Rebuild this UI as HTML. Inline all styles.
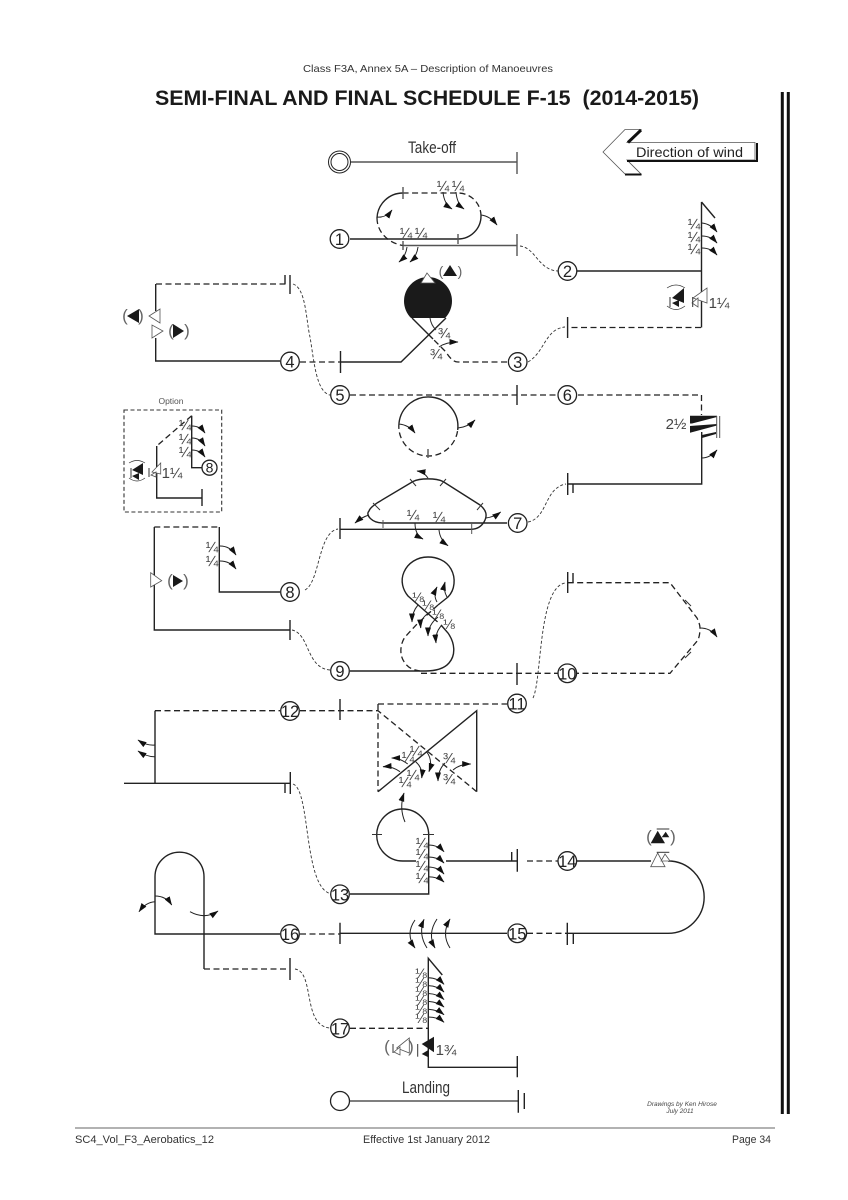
<!DOCTYPE html>
<html><head><meta charset="utf-8">
<style>
html,body{margin:0;padding:0;background:#fff}
svg{display:block}
text{font-family:"Liberation Sans",sans-serif}
.s{fill:none;stroke:#222;stroke-width:1.4}
.g{fill:none;stroke:#555;stroke-width:1.4}
.d{fill:none;stroke:#222;stroke-width:1.3;stroke-dasharray:6 3.5}
.t{fill:none;stroke:#333;stroke-width:.9;stroke-dasharray:3 2}
.a{fill:none;stroke:#222;stroke-width:1;marker-end:url(#ah)}
.k{fill:none;stroke:#333;stroke-width:1}
.o{fill:#fff;stroke:#555;stroke-width:.8}
.b{fill:#1a1a1a;stroke:none}
.c{fill:#fff;stroke:#222;stroke-width:1.3}
.n{font-size:16.5px;text-anchor:middle;fill:#222}
.f{font-size:15px;text-anchor:middle;fill:#444}
.e{font-size:14px;text-anchor:middle;fill:#444}
.p{font-size:17px;text-anchor:middle;fill:#666}
</style></head><body>
<svg width="848" height="1200" viewBox="0 0 848 1200" xmlns="http://www.w3.org/2000/svg">
<defs><marker id="ah" markerUnits="userSpaceOnUse" markerWidth="10" markerHeight="7" refX="8.5" refY="3" orient="auto"><path d="M0 0L9 3L0 6Z" fill="#111"/></marker></defs>
<rect width="848" height="1200" fill="#fff"/>

<!-- header / footer -->
<text x="428" y="72" font-size="10.5" text-anchor="middle" fill="#333" textLength="250" lengthAdjust="spacingAndGlyphs">Class F3A, Annex 5A – Description of Manoeuvres</text>
<text x="155" y="105" font-size="21.5" font-weight="bold" fill="#1a1a1a" textLength="544" lengthAdjust="spacingAndGlyphs" xml:space="preserve">SEMI-FINAL AND FINAL SCHEDULE F-15  (2014-2015)</text>
<path d="M782.3 92V1114M788.3 92V1114" stroke="#111" stroke-width="3" fill="none"/>
<path d="M75 1128H775" stroke="#666" stroke-width="1" fill="none"/>
<text x="75" y="1143" font-size="11" fill="#333" textLength="139" lengthAdjust="spacingAndGlyphs">SC4_Vol_F3_Aerobatics_12</text>
<text x="363" y="1143" font-size="11" fill="#333" textLength="127" lengthAdjust="spacingAndGlyphs">Effective 1st January 2012</text>
<text x="732" y="1143" font-size="11" fill="#333" textLength="39" lengthAdjust="spacingAndGlyphs">Page 34</text>
<text x="682" y="1106" font-size="6.5" font-style="italic" text-anchor="middle" fill="#444">Drawings by Ken Hirose</text>
<text x="680" y="1113" font-size="6.5" font-style="italic" text-anchor="middle" fill="#444">July  2011</text>

<!-- wind -->
<path d="M603 152L625 129.5H641L627 142.5H755V160H627L641 174H625Z" class="o"/>
<path d="M641 130L628 142.5" stroke="#111" stroke-width="3" fill="none"/>
<path d="M627 161H757V143" stroke="#111" stroke-width="2" fill="none"/>
<path d="M625 174.5H641.5" stroke="#111" stroke-width="2" fill="none"/>
<text x="636" y="157" font-size="14" fill="#222" textLength="107" lengthAdjust="spacingAndGlyphs">Direction of wind</text>

<!-- take-off -->
<circle cx="339.5" cy="162" r="11" class="c" style="stroke-width:1"/>
<circle cx="339.5" cy="162" r="8.5" class="c" style="stroke-width:1"/>
<path d="M351 162H517M517 152V174" class="g"/>
<text x="432" y="153" font-size="17" text-anchor="middle" fill="#333" textLength="48" lengthAdjust="spacingAndGlyphs">Take-off</text>

<!-- 1 -->
<path d="M350 239H458A23 23 0 0 0 481 216" class="s"/>
<path d="M481 216A23 23 0 0 0 458 193H403" class="d"/>
<path d="M403 193A26 26 0 0 0 377 218" class="s"/>
<path d="M377 218C377 232 388 243 403 245.5" class="d"/>
<path d="M403 245.5H517M517 234V256M403 187V199M458 234V244M403 241V250" class="g"/>
<path d="M377 217Q386 218 392 210" class="a"/>
<path d="M443 192Q444 204 452 209" class="a"/>
<path d="M456 192Q457 204 464 209" class="a"/>
<path d="M481 215Q490 216 497 225" class="a"/>
<path d="M407 247Q406 256 399 262" class="a"/>
<path d="M418 247Q417 256 410 262" class="a"/>
<text x="443" y="191" class="f">¼</text><text x="458" y="191" class="f">¼</text>
<text x="406" y="238" class="f">¼</text><text x="421" y="238" class="f">¼</text>
<path d="M520 246C536 248 538 270 558 271" class="t"/>

<!-- 2 -->
<path d="M577 271H702M701.5 202V327.5M701.5 202L715 218" class="s"/>
<text x="694" y="229" class="f">¼</text><text x="694" y="242" class="f">¼</text><text x="694" y="254" class="f">¼</text>
<path d="M702 223Q711 224 717 232" class="a"/><path d="M702 236Q711 236 717 243" class="a"/><path d="M702 248Q711 248 717 255" class="a"/>
<path d="M707 288V303L693 298Z" class="o"/><path d="M698 298V307L692 303Z" class="o"/>
<path d="M692.7 297V307" class="k"/>
<text x="719" y="308" class="f">1¼</text>
<path d="M684 288V303L672 298Z" class="b"/><path d="M679 300V307L672 303Z" class="b"/>
<path d="M670 297V307" class="k"/>
<path d="M667 288Q676 282 685 288M667 306Q676 313 685 306" class="k" style="stroke-width:.7"/>
<path d="M701 327.5H568" class="d"/><path d="M567.6 317V338" class="s"/>
<path d="M528 362C545 352 545 329 565 327" class="t"/>

<!-- 3 / 4 -->
<path d="M507 362H458Q452 362 446 352L433 339" class="d"/>
<path d="M433 339L412 318" class="s"/>
<path d="M411 318A24 24 0 1 1 445 318Z" class="b"/>
<path d="M427 273L435 283H421Z" fill="#fff" stroke="#555" stroke-width=".8"/>
<path d="M446 318L401 362H340M340.5 351V373" class="s"/>
<path d="M300 362H340" class="d"/>
<path d="M430 318Q431 325 436 330" class="k"/>
<path d="M439 347Q446 342 458 342" class="a"/>
<text x="444" y="338" class="f">¾</text><text x="436" y="359" class="f">¾</text>
<text x="441" y="276" class="p" style="font-size:14px">(</text><text x="460" y="276" class="p" style="font-size:14px">)</text>
<path d="M450 265L457 276H443Z" class="b"/>

<!-- 4 5 left -->
<path d="M156 284H287" class="d"/>
<path d="M290 275V294M285 275V284" class="s"/>
<path d="M155.7 284V311M155.7 338V361H280" class="s"/>
<path d="M160 309V323L149 316Z" class="o"/><path d="M152 325V338L163 331Z" class="o"/>
<path d="M139 309V323L127 316Z" class="b"/><path d="M173 324V338L184 331Z" class="b"/>
<text x="125" y="321" class="p">(</text><text x="141" y="321" class="p">)</text>
<text x="171" y="336" class="p">(</text><text x="187" y="336" class="p">)</text>
<path d="M293 284C306 288 306 320 310 337C314 360 316 392 330 395" class="t"/>

<!-- 5 6 loop -->
<path d="M350 395H701.5V415" class="d"/>
<path d="M517 385V405" class="s"/>
<path d="M457.7 430A29.5 29.5 0 1 0 399 423" class="s"/>
<path d="M399 423A29.5 29.5 0 0 0 457.7 430" class="d"/>
<path d="M428 449V458" class="g"/>
<path d="M399 424Q409 425 415 433" class="a"/>
<path d="M458 428Q468 427 475 420" class="a"/>

<!-- spin -->
<path d="M690 415.7H717V417L692 423.5H690Z" class="b"/>
<path d="M690 426L717 424V425.5L690 432.7Z" class="b"/>
<path d="M702 435L716 432V434L702 438Z" class="b"/>
<path d="M716.7 416V438M719.7 416V438" class="g" style="stroke-width:1"/>
<text x="676" y="429" class="f">2½</text>
<path d="M701.7 432V484H568M567.7 473V495M573 484V493" class="s"/>
<path d="M701.7 458Q710 458 717 450" class="a"/>

<!-- 7 -->
<path d="M507 523H383C372 523 365 515 369 511C370 508 373 506 377 503L413 481.5C420 478 436 478 443 481.5L480 505C486 510 488 515 484 522C481 527 477 529 471.7 529.3H340" class="s"/>
<path d="M340 518V539" class="s"/>
<path d="M383 520V528M471.7 524V534" class="g" style="stroke-width:1"/>
<path d="M373 503L380 510M410 479L416 486M446 479L440 486M483 503L477 510" class="k"/>
<path d="M369 515Q362 517 355 523" class="a"/>
<path d="M428 478Q424 472 417 471" class="a"/>
<path d="M486 518Q494 517 500.7 512" class="a"/>
<path d="M415 523Q415 535 423 539" class="a"/>
<path d="M439 530Q440 540 448 545.7" class="a"/>
<text x="413" y="520" class="f">¼</text><text x="439" y="522" class="f">¼</text>
<path d="M528 522C548 518 544 488 566 484" class="t"/>
<path d="M305 590C320 582 318 532 338 529" class="t"/>

<!-- option box -->
<rect x="124" y="410" width="97.7" height="102" fill="none" stroke="#333" stroke-width="1.1" stroke-dasharray="4 2.5"/>
<text x="171" y="404" font-size="8.5" text-anchor="middle" fill="#555">Option</text>
<path d="M191.7 415.7V467.7H203" class="s"/>
<path d="M191.7 415.7L156.7 446" class="d"/>
<path d="M156.7 446V498H202M202 489V506" class="s"/>
<text x="185" y="430" class="f">¼</text><text x="185" y="444" class="f">¼</text><text x="185" y="457" class="f">¼</text>
<path d="M192 426Q200 426 205 433" class="a"/><path d="M192 438Q200 438 205 446" class="a"/><path d="M192 450Q200 450 205 457" class="a"/>
<path d="M160.7 463V474L152 472Z" class="o"/><path d="M156 472V477L151 475Z" class="o"/>
<path d="M149 468V477" class="k"/>
<text x="172" y="478" class="f">1¼</text>
<path d="M143 463V475L132 470Z" class="b"/><path d="M139 473V480L132 476Z" class="b"/>
<path d="M131 468V478" class="k"/>
<path d="M129 463Q137 458 145 463M129 478Q137 484 145 478" class="k" style="stroke-width:.7"/>

<!-- 8 main -->
<path d="M154.3 527H219.3" class="d"/>
<path d="M219.3 527V592H280" class="s"/>
<path d="M154.3 527V630H290M290 620V640" class="s"/>
<path d="M150.7 572.7V587L161.7 580.7Z" class="o"/>
<path d="M173 575V587L183 581Z" class="b"/>
<text x="170" y="586" class="p">(</text><text x="186" y="586" class="p">)</text>
<text x="212" y="552" class="f">¼</text><text x="212" y="566" class="f">¼</text>
<path d="M220 546Q230 546 236 555" class="a"/><path d="M220 561Q230 561 236 569" class="a"/>
<path d="M292 630C310 634 306 668 330 670" class="t"/>

<!-- figure 8 -->
<path d="M438 605L448 597C455 590 456 578 451 569C446 560 436 557 428 557C417 557 408 563 404 572C400 581 403 590 408 596L433 618" class="s"/>
<path d="M438 605L417 624L405 637C400 644 399 656 405 663C409 669 415 670 420 671" class="d"/>
<path d="M433 618L440 624" class="d"/>
<path d="M441 625L448 633C455 643 456 655 449 663C443 670 433 671 425 671H350" class="s"/>
<path d="M421 673.3H670L698 640Q700 635 700 628Q700 624 697 618L670 582.7H568" class="d"/>
<path d="M517 663V685" class="s"/>
<path d="M685 600L691 606M685 658L691 652" class="k"/>
<path d="M567.7 572V593M573 573V583" class="s"/>
<path d="M700 628Q711 628 717 637" class="a"/>
<path d="M533 698C542 680 538 588 565 583" class="t"/>
<text x="418" y="602" class="e">⅛</text><text x="428" y="610" class="e">⅛</text><text x="438" y="619" class="e">⅛</text><text x="449" y="629" class="e">⅛</text>
<path d="M437 602Q433 595 437 587" class="a"/>
<path d="M447 597Q443 590 445 582" class="a"/>
<path d="M418 605Q412 612 412 622" class="a"/>
<path d="M430 612Q420 618 420.7 628" class="a"/>
<path d="M438 617Q428 625 428 636" class="a"/>
<path d="M442 625Q435 632 436 643" class="a"/>

<!-- 11 12 X -->
<path d="M155 710.7H280M300 710.7H378L476.7 791.7" class="d"/>
<path d="M340 699V720" class="s"/>
<path d="M378 704H507M378 704V791.7" class="d"/>
<path d="M378 791.7L476.7 710.7V791.7" class="s"/>
<path d="M155 710.7V783.3M124 783.3H290.3M290.3 772V794M285 783V793" class="s"/>
<path d="M155 745Q147 746 138 740" class="a"/><path d="M155 756.7Q147 757 138 751" class="a"/>
<text x="416" y="756" class="f">¼</text><text x="408" y="762" class="f">¼</text><text x="413" y="780" class="f">¼</text><text x="405" y="787" class="f">¼</text>
<text x="449" y="763" class="f">¾</text><text x="449" y="784" class="f">¾</text>
<path d="M426.7 752Q433 760 429 771.7" class="a"/>
<path d="M415.7 761.7Q423 768 421.7 778" class="a"/>
<path d="M407.7 764Q400 758 391.7 758" class="a"/>
<path d="M400 771.7Q392 766 383 766.7" class="a"/>
<path d="M445 763Q438 770 438 781" class="a"/>
<path d="M453 770Q460 764 470.7 764" class="a"/>

<!-- 13 -->
<path d="M293 784C311 790 303 890 332 894" class="t"/>
<path d="M350 894H428.7V835A26 26 0 0 0 376.7 835A26 26 0 0 0 402.7 861H416" class="s"/>
<path d="M372 834.5H382M423 834.5H434" class="k"/>
<path d="M405 822Q399 808 404 793" class="a"/>
<text x="422" y="848" class="f">¼</text><text x="422" y="859" class="f">¼</text><text x="422" y="871" class="f">¼</text><text x="422" y="883" class="f">¼</text>
<path d="M428 845Q438 845 444 851.7" class="a"/><path d="M428 857Q438 857 444 863" class="a"/><path d="M428 867Q438 867 444 874" class="a"/><path d="M428 876.7Q438 876.7 444 882" class="a"/>

<!-- 14 15 -->
<path d="M446 861H517M517.3 849V871.7M511.7 852V861" class="s"/>
<path d="M527 861H558" class="d"/>
<path d="M577 861H651M668 861A36 36 0 0 1 668 933.3H567.3M567.3 922.7V945M573.3 933V944" class="s"/>
<path d="M527 933.3H567" class="d"/>
<path d="M507 933.3H340M340 922.7V944" class="s"/>
<path d="M300 934H340" class="d"/>
<path d="M657.7 853L665 866.7H650.7Z" class="o"/><path d="M665 854L670 861H661Z" class="o"/>
<path d="M656.7 852.3H669.3" class="k"/>
<path d="M657.7 830.7L665 843.3H650.7Z" class="b"/><path d="M665.7 831.7L669.3 837.3H661.7Z" class="b"/>
<path d="M656.7 829H669.3" class="k"/>
<text x="649" y="842" class="p">(</text><text x="673" y="842" class="p">)</text>
<path d="M415 920Q405 934 415 948" class="a"/>
<path d="M427 948Q418 934 424 919.3" class="a"/>
<path d="M437 919Q427 934 435 948" class="a"/>
<path d="M450 948Q441 934 450 919" class="a"/>

<!-- 16 -->
<path d="M280 934H155V876.7A24.5 24.5 0 0 1 204 876.7V969" class="s"/>
<path d="M204 969H290" class="d"/><path d="M290 958V980" class="s"/>
<path d="M155 896Q166 896 171.7 905" class="a"/>
<path d="M155 901.7Q146 902 139 911.7" class="a"/>
<path d="M190 911.7Q205 920 218 911" class="a"/>

<!-- 17 -->
<path d="M295 969C315 972 302 1026 330 1028" class="t"/>
<path d="M350 1028.3H428" class="d"/>
<path d="M442.3 975L428.3 958.3V1067.3H517.3M517.3 1056V1077.3" class="s"/>
<text x="421" y="978" class="e">⅛</text><text x="421" y="987" class="e">⅛</text><text x="421" y="996" class="e">⅛</text><text x="421" y="1005" class="e">⅛</text><text x="421" y="1014" class="e">⅛</text><text x="421" y="1023" class="e">⅛</text>
<path d="M428.3 977.7Q438 978 444 984.3" class="a"/><path d="M428.3 985.6Q438 986 444 992" class="a"/><path d="M428.3 993.5Q438 994 444 999.5" class="a"/><path d="M428.3 1001.4Q438 1002 444 1007" class="a"/><path d="M428.3 1009.3Q438 1010 444 1014.7" class="a"/><path d="M428.3 1017Q438 1017 444 1022.3" class="a"/>
<path d="M434 1036.7V1052.3L421.7 1044Z" class="b"/><path d="M428.3 1050V1057.3L421.7 1054Z" class="b"/>
<path d="M417.7 1044V1056.7" class="k"/>
<text x="446" y="1055" class="f">1¾</text>
<path d="M409.3 1038V1053L396.7 1048Z" class="o"/><path d="M400 1047V1055L394 1052Z" class="o"/>
<path d="M393 1044V1053" class="k"/>
<text x="387" y="1052" class="p">(</text><text x="411" y="1052" class="p">)</text>

<!-- landing -->
<circle cx="340" cy="1101" r="9.5" class="c"/>
<path d="M350 1101H518.3" class="g" style="stroke-width:1.6"/>
<path d="M518.3 1090V1112.7M524.3 1093V1109" class="s"/>
<text x="426" y="1093" font-size="17" text-anchor="middle" fill="#333" textLength="48" lengthAdjust="spacingAndGlyphs">Landing</text>

<!-- numbered circles -->
<g>
<circle cx="339.5" cy="239" r="9.3" class="c"/><text x="339.5" y="245" class="n">1</text>
<circle cx="567.5" cy="271" r="9.3" class="c"/><text x="567.5" y="277" class="n">2</text>
<circle cx="517.7" cy="362" r="9.3" class="c"/><text x="517.7" y="368" class="n">3</text>
<circle cx="290" cy="361.5" r="9.3" class="c"/><text x="290" y="367.5" class="n">4</text>
<circle cx="340" cy="395" r="9.3" class="c"/><text x="340" y="401" class="n">5</text>
<circle cx="567.3" cy="395" r="9.3" class="c"/><text x="567.3" y="401" class="n">6</text>
<circle cx="517.7" cy="523" r="9.3" class="c"/><text x="517.7" y="529" class="n">7</text>
<circle cx="290" cy="592" r="9.3" class="c"/><text x="290" y="598" class="n">8</text>
<circle cx="209.5" cy="467.7" r="7.5" class="c"/><text x="209.5" y="472.5" class="n" style="font-size:14px">8</text>
<circle cx="340" cy="671" r="9.3" class="c"/><text x="340" y="677" class="n">9</text>
<circle cx="567.3" cy="673.3" r="9.3" class="c"/><text x="567.3" y="679.3" class="n">10</text>
<circle cx="517" cy="703.5" r="9.3" class="c"/><text x="517" y="709.5" class="n">11</text>
<circle cx="290" cy="711" r="9.3" class="c"/><text x="290" y="717" class="n">12</text>
<circle cx="340" cy="894.3" r="9.3" class="c"/><text x="340" y="900.3" class="n">13</text>
<circle cx="567.3" cy="861" r="9.3" class="c"/><text x="567.3" y="867" class="n">14</text>
<circle cx="517.3" cy="933.3" r="9.3" class="c"/><text x="517.3" y="939.3" class="n">15</text>
<circle cx="290" cy="934" r="9.3" class="c"/><text x="290" y="940" class="n">16</text>
<circle cx="340" cy="1028.3" r="9.3" class="c"/><text x="340" y="1034.3" class="n">17</text>
</g>
</svg>
</body></html>
